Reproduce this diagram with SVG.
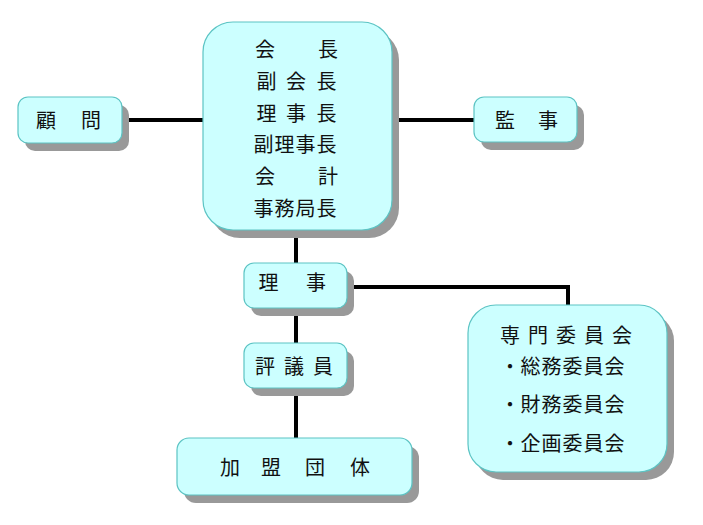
<svg xmlns="http://www.w3.org/2000/svg" width="703" height="525" viewBox="0 0 703 525">
<style>
.box{fill:#ccffff;stroke:#5cc4c4;stroke-width:1.2}
.sh{fill:#999999}
.t{font-family:"Noto Sans CJK JP","Noto Sans CJK SC",sans-serif;font-size:20px;fill:#111;text-anchor:middle}
.ln{stroke:#000;stroke-width:4;fill:none}
</style>
<rect width="703" height="525" fill="#ffffff"/>
<g id="connectors">
<line class="ln" x1="122" y1="120" x2="203" y2="120"/>
<line class="ln" x1="392" y1="120" x2="474" y2="120"/>
<line class="ln" x1="296" y1="230" x2="296" y2="263"/>
<line class="ln" x1="296" y1="308" x2="296" y2="343"/>
<line class="ln" x1="296" y1="388" x2="296" y2="438"/>
<polyline class="ln" points="347,287 568,287 568,305"/>
</g>
<g id="main">
<rect class="sh" x="210" y="30" width="189" height="208" rx="30"/>
<rect class="box" x="203" y="22" width="189" height="208" rx="30"/>
<text class="t" y="57" x="265 328">会長</text>
<text class="t" y="89" x="266.5 296 326.5">副会長</text>
<text class="t" y="120.5" x="266.5 296 326.5">理事長</text>
<text class="t" y="152" x="263.5 284.5 305.5 326.5">副理事長</text>
<text class="t" y="184" x="265 328">会計</text>
<text class="t" y="216" x="263.5 284.5 305.5 326.5">事務局長</text>
</g>
<g id="komon">
<rect class="sh" x="25" y="105" width="104" height="46" rx="10"/>
<rect class="box" x="18" y="97" width="104" height="46" rx="10"/>
<text class="t" y="128" x="46 91">顧問</text>
</g>
<g id="kanji">
<rect class="sh" x="481" y="105" width="103" height="45" rx="10"/>
<rect class="box" x="474" y="97" width="103" height="45" rx="10"/>
<text class="t" y="128" x="505 548">監事</text>
</g>
<g id="riji">
<rect class="sh" x="251" y="271" width="103" height="45" rx="10"/>
<rect class="box" x="244" y="263" width="103" height="45" rx="10"/>
<text class="t" y="290" x="268.5 316">理事</text>
</g>
<g id="hyogiin">
<rect class="sh" x="251" y="351" width="103" height="45" rx="10"/>
<rect class="box" x="244" y="343" width="103" height="45" rx="10"/>
<text class="t" y="373.5" x="265 294 323">評議員</text>
</g>
<g id="kamei">
<rect class="sh" x="184" y="446" width="235" height="57" rx="12"/>
<rect class="box" x="177" y="438" width="235" height="57" rx="12"/>
<text class="t" y="475" x="230 271 315 360">加盟団体</text>
</g>
<g id="senmon">
<rect class="sh" x="475" y="313" width="199" height="167" rx="28"/>
<rect class="box" x="468" y="305" width="199" height="167" rx="28"/>
<text class="t" y="343" x="510 538 566 594 622">専門委員会</text>
<text class="t" y="373.5" x="510 530.5 551.5 572.5 593.5 614.5">・総務委員会</text>
<text class="t" y="412" x="510 530.5 551.5 572.5 593.5 614.5">・財務委員会</text>
<text class="t" y="451" x="510 530.5 551.5 572.5 593.5 614.5">・企画委員会</text>
</g>
</svg>
